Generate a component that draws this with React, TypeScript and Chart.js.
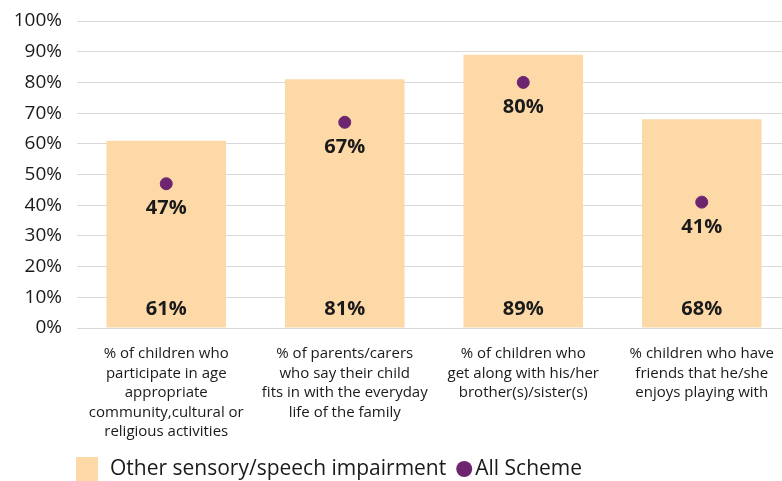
import React, { useEffect, useRef } from "react";
import { Chart, registerables } from "chart.js";

Chart.register(...registerables);

const categories: string[][] = [
  ["% of children who", "participate in age", "appropriate", "community,cultural or", "religious activities"],
  ["% of parents/carers", "who say their child", "fits in with the everyday", "life of the family"],
  ["% of children who", "get along with his/her", "brother(s)/sister(s)"],
  ["% children who have", "friends that he/she", "enjoys playing with"],
];
const otherSensory: number[] = [61, 81, 89, 68];
const allScheme: number[] = [47, 67, 80, 41];
const yTicks: number[] = [0, 10, 20, 30, 40, 50, 60, 70, 80, 90, 100];

const BAR_COLOR = "#FDD9A8";
const DOT_COLOR = "#6E2570";
const FONT = "'Open Sans', sans-serif";

const labelsPlugin = {
  id: "valueLabels",
  afterDatasetsDraw(chart: any) {
    const ctx = chart.ctx;
    const yScale = chart.scales.y;
    ctx.save();
    ctx.fillStyle = "#1a1a1a";
    ctx.font = `bold 20px ${FONT}`;
    ctx.textAlign = "center";
    ctx.textBaseline = "middle";
    const barMeta = chart.getDatasetMeta(0);
    barMeta.data.forEach((el: any, i: number) => {
      ctx.fillText(`${otherSensory[i]}%`, el.x, yScale.getPixelForValue(0) - 19);
    });
    const dotMeta = chart.getDatasetMeta(1);
    dotMeta.data.forEach((el: any, i: number) => {
      ctx.fillText(`${allScheme[i]}%`, el.x, el.y + 25);
    });
    ctx.restore();
  },
  afterDraw(chart: any) {
    const ctx = chart.ctx;
    ctx.save();
    const y = 469;
    ctx.fillStyle = BAR_COLOR;
    ctx.fillRect(76, y - 12, 22, 24);
    ctx.fillStyle = "#1a1a1a";
    ctx.font = `21px ${FONT}`;
    ctx.textAlign = "left";
    ctx.textBaseline = "middle";
    const t1 = chart.data.datasets[0].label;
    ctx.fillText(t1, 110, y);
    const w1 = ctx.measureText(t1).width;
    const cx = 110 + w1 + 18;
    ctx.fillStyle = DOT_COLOR;
    ctx.beginPath();
    ctx.arc(cx, y, 8, 0, Math.PI * 2);
    ctx.fill();
    ctx.fillStyle = "#1a1a1a";
    ctx.fillText(chart.data.datasets[1].label, cx + 11, y);
    ctx.restore();
  },
};

export default function App() {
  const ref = useRef<HTMLCanvasElement | null>(null);
  useEffect(() => {
    document.body.style.margin = "0";
    document.body.style.overflow = "hidden";
    if (!ref.current) return;
    const chart = new Chart(ref.current, {
      type: "bar",
      data: {
        labels: categories,
        datasets: [
          {
            type: "bar",
            label: "Other sensory/speech impairment",
            data: otherSensory,
            backgroundColor: BAR_COLOR,
            categoryPercentage: 0.67,
            barPercentage: 1,
            order: 2,
          },
          {
            type: "scatter",
            label: "All Scheme",
            data: allScheme,
            backgroundColor: DOT_COLOR,
            borderColor: DOT_COLOR,
            pointRadius: 6,
            pointHoverRadius: 6,
            showLine: false,
            order: 1,
          } as any,
        ],
      },
      options: {
        responsive: false,
        animation: false,
        events: [],
        layout: { padding: { top: 21, right: 9, left: 0, bottom: 0 } },
        plugins: {
          legend: { display: false },
          tooltip: { enabled: false },
        },
        scales: {
          x: {
            type: "category",
            grid: { display: false },
            border: { display: false },
            ticks: {
              color: "#1a1a1a",
              font: { family: FONT, size: 15, lineHeight: 1.3 },
              padding: 8,
              maxRotation: 0,
              autoSkip: false,
            },
            afterFit(scale: any) {
              scale.height = 153;
            },
          },
          y: {
            min: 0,
            max: 100,
            afterBuildTicks(scale: any) {
              scale.ticks = yTicks.map((v) => ({ value: v }));
            },
            grid: { color: "#d9d9d9", drawTicks: false },
            border: { display: false },
            ticks: {
              color: "#1a1a1a",
              font: { family: FONT, size: 19 },
              padding: 15,
              callback: (v: any) => `${v}%`,
            },
            afterFit(scale: any) {
              scale.width = 77;
              scale.paddingTop = 0;
              scale.paddingBottom = 0;
            },
          },
        },
      },
      plugins: [labelsPlugin],
    });
    return () => chart.destroy();
  }, []);
  return (
    <div style={{ width: 800, height: 481 }}>
      <canvas ref={ref} width={800} height={481} style={{ display: "block" }} />
    </div>
  );
}
